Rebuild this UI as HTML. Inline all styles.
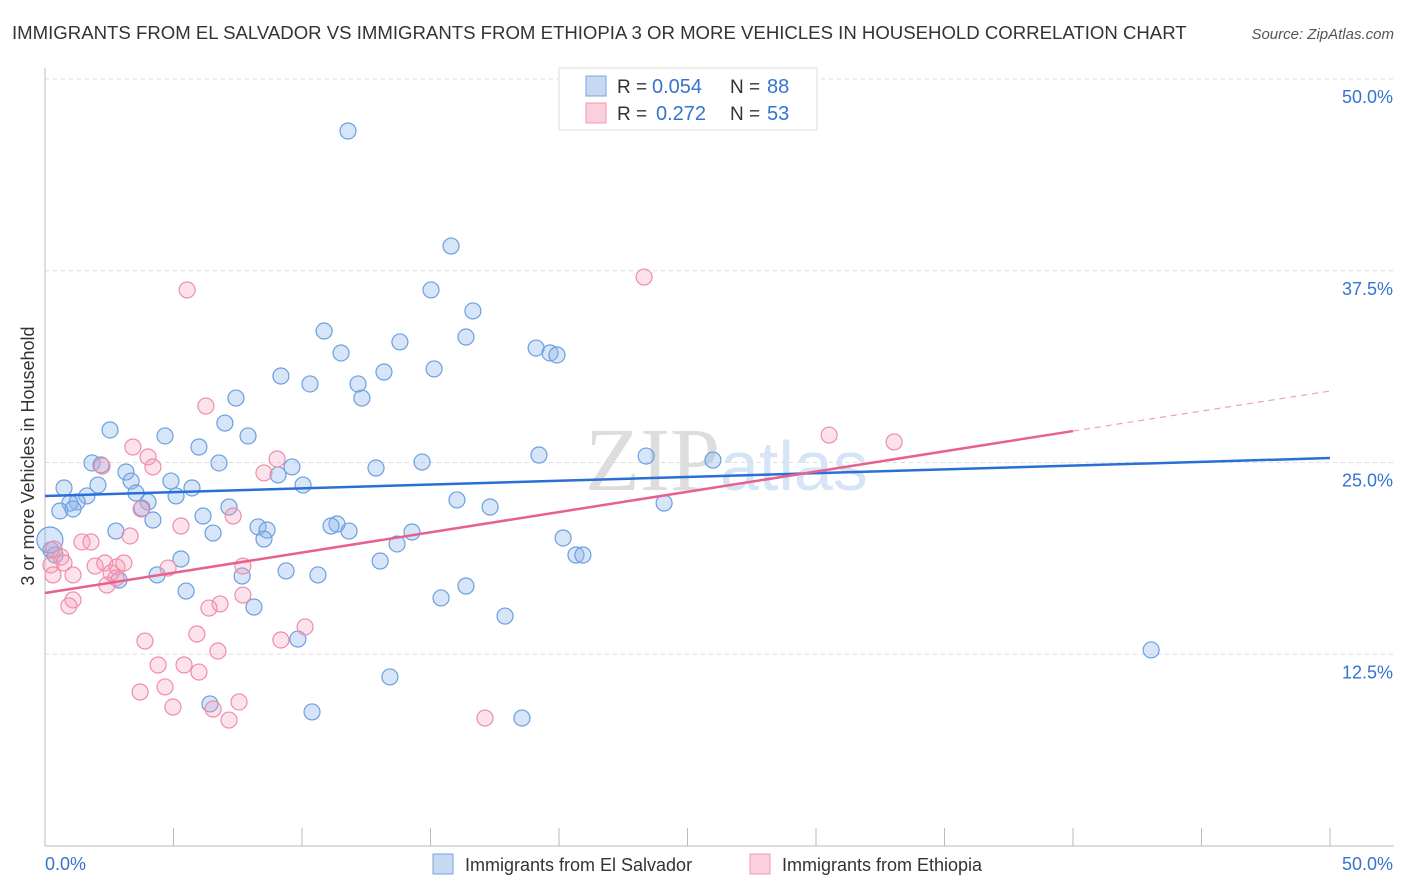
<!DOCTYPE html>
<html><head><meta charset="utf-8"><style>
body{margin:0;background:#fff;font-family:"Liberation Sans",sans-serif}
#c{position:absolute;left:0;top:0}
</style></head><body>
<svg id="c" width="1406" height="892">
<text x="12" y="39" font-size="18.6" fill="#333">IMMIGRANTS FROM EL SALVADOR VS IMMIGRANTS FROM ETHIOPIA 3 OR MORE VEHICLES IN HOUSEHOLD CORRELATION CHART</text>
<text x="1394" y="39" font-size="15" fill="#555" font-style="italic" text-anchor="end">Source: ZipAtlas.com</text>
<text x="720" y="490" font-size="90" fill="#ddd" text-anchor="end" font-family="Liberation Serif,serif">ZIP</text>
<text x="720" y="490" font-size="70" fill="#d6e4f5">atlas</text>
<g id="grid"></g><g id="axes"></g><g id="pts"></g><g id="lines"></g>
<text transform="translate(34,456) rotate(-90)" font-size="18" fill="#333" text-anchor="middle">3 or more Vehicles in Household</text>
<g>
<rect x="559" y="68" width="258" height="62" fill="#fff" stroke="#ddd"/>
<rect x="586" y="76" width="20" height="20" fill="#c5d9f3" stroke="#7aa4dc"/>
<rect x="586" y="103" width="20" height="20" fill="#fbd0dc" stroke="#ee9ab3"/>
<text x="617" y="93" font-size="19" fill="#333">R =</text>
<text x="652" y="93" font-size="20" fill="#3573d0">0.054</text>
<text x="730" y="93" font-size="19" fill="#333">N =</text>
<text x="767" y="93" font-size="20" fill="#3573d0">88</text>
<text x="617" y="120" font-size="19" fill="#333">R =</text>
<text x="656" y="120" font-size="20" fill="#3573d0">0.272</text>
<text x="730" y="120" font-size="19" fill="#333">N =</text>
<text x="767" y="120" font-size="20" fill="#3573d0">53</text>
</g>
<g>
<rect x="433" y="854" width="20" height="20" fill="#c5d9f3" stroke="#7aa4dc"/>
<text x="465" y="871" font-size="18" fill="#333">Immigrants from El Salvador</text>
<rect x="750" y="854" width="20" height="20" fill="#fbd0dc" stroke="#ee9ab3"/>
<text x="782" y="871" font-size="18" fill="#333">Immigrants from Ethiopia</text>
</g>
</svg>
<script>
const blueX=[11.79,15.80,15.02,16.65,10.86,16.38,11.52,13.81,19.11,19.65,19.92,9.18,10.31,13.19,12.18,15.14,12.33,7.43,2.53,4.67,7.00,7.90,5.99,19.22,23.39,25.99,1.83,2.18,6.77,14.67,12.88,9.61,9.07,3.15,0.74,2.06,3.35,4.90,5.72,10.04,3.54,1.63,1.25,4.01,5.10,0.97,0.58,1.09,3.77,16.03,17.32,24.09,4.20,6.15,7.16,2.76,6.54,8.29,8.64,11.36,11.13,11.83,8.52,14.28,13.70,20.16,20.66,20.93,13.04,5.29,0.23,0.39,4.36,2.88,7.67,9.38,10.62,16.38,5.49,15.41,8.13,17.90,9.84,43.04,13.42,6.42,10.39,18.56,0.19];
const blueY=[46.61,39.11,36.25,34.88,33.57,33.18,32.14,32.86,32.46,32.14,32.01,30.64,30.12,30.90,30.12,31.10,29.20,29.20,27.12,26.73,27.57,26.73,26.01,25.49,25.42,25.16,24.97,24.84,24.97,25.03,24.64,24.71,24.19,24.38,23.34,23.53,23.79,23.79,23.34,23.53,23.01,22.82,22.43,22.43,22.82,22.36,21.84,21.97,22.03,22.56,22.10,22.36,21.25,21.51,22.10,20.53,20.40,20.80,20.60,20.99,20.86,20.53,20.01,20.47,19.69,20.08,18.97,18.97,18.58,18.71,19.30,18.97,17.67,17.34,17.60,17.93,17.67,16.95,16.62,16.17,15.58,14.99,13.49,12.78,11.02,9.26,8.74,8.34,19.95];
const pinkX=[5.53,23.31,6.26,3.42,4.01,4.20,2.22,9.03,8.52,30.51,33.04,3.74,7.32,5.29,1.44,1.79,3.31,0.35,0.62,0.23,0.74,1.09,1.95,2.33,2.80,3.07,2.57,2.76,2.41,4.79,7.70,0.31,1.09,0.93,6.81,6.38,7.70,10.12,9.18,3.89,5.91,4.40,5.41,6.73,5.99,3.70,4.67,7.55,4.98,6.54,7.16,17.12];
const pinkY=[36.25,37.09,28.68,26.01,25.36,24.71,24.77,25.23,24.32,26.79,26.34,21.97,21.51,20.86,19.82,19.82,20.21,19.36,18.84,18.32,18.45,17.67,18.25,18.45,18.19,18.45,17.80,17.47,17.01,18.12,18.25,17.67,16.04,15.65,15.78,15.51,16.36,14.28,13.43,13.36,13.82,11.80,11.80,12.71,11.34,10.04,10.37,9.39,9.06,8.93,8.21,8.34];
const blueTrend=[22.82,25.29];
const pinkTrend=[16.49,27.05,29.66];
const pinkTrendX=[0,40,50];
const yTicks=[12.5,25,37.5,50];
const yTickLabels=["12.5%","25.0%","37.5%","50.0%"];
const xTicks=[0,5,10,15,20,25,30,35,40,45,50];
const NS="http://www.w3.org/2000/svg";
const sx=v=>45+v*25.7, sy=v=>846-v*15.34;
function mk(tag,attrs,parent){const e=document.createElementNS(NS,tag);for(const k in attrs)e.setAttribute(k,attrs[k]);document.getElementById(parent).appendChild(e);return e;}
yTicks.forEach((t,i)=>{
 const g=mk('line',{x1:45,x2:1394,y1:sy(t),y2:sy(t),stroke:'#ddd','stroke-dasharray':'4,4'},'grid');
 
 
 const l=mk('text',{x:1393,y:sy(t)+24,'font-size':18,fill:'#3573d0','text-anchor':'end'},'axes');l.textContent=yTickLabels[i];
 
 
});
const ax=mk('line',{x1:45,x2:45,y1:68,y2:846,stroke:'#bbb'},'axes');


const bx=mk('line',{x1:45,x2:1394,y1:846,y2:846,stroke:'#bbb'},'axes');


xTicks.forEach(t=>{const k=mk('line',{x1:sx(t),x2:sx(t),y1:828,y2:846,stroke:'#bbb'},'axes');
 
 });
const x0=mk('text',{x:45,y:870,'font-size':18,fill:'#3573d0'},'axes');x0.textContent=xTicks[0].toFixed(1)+"%";


const x1=mk('text',{x:1393,y:870,'font-size':18,fill:'#3573d0','text-anchor':'end'},'axes');x1.textContent=xTicks[xTicks.length-1].toFixed(1)+"%";


blueX.forEach((v,i)=>{const c=mk('circle',{cx:sx(v),cy:sy(blueY[i]),r:i==blueX.length-1?13:8,fill:'rgba(140,180,235,0.35)',stroke:'#6b9fe0','stroke-width':1.2},'pts');
 
 });
pinkX.forEach((v,i)=>{const c=mk('circle',{cx:sx(v),cy:sy(pinkY[i]),r:8,fill:'rgba(245,160,185,0.3)',stroke:'#f08caa','stroke-width':1.2},'pts');
 
 });
const bl=mk('line',{x1:sx(0),y1:sy(blueTrend[0]),x2:sx(50),y2:sy(blueTrend[1]),stroke:'#2a6fd6','stroke-width':2.5},'lines');


const pl=mk('line',{x1:sx(pinkTrendX[0]),y1:sy(pinkTrend[0]),x2:sx(pinkTrendX[1]),y2:sy(pinkTrend[1]),stroke:'#e8608e','stroke-width':2.5},'lines');


const pd=mk('line',{x1:sx(pinkTrendX[1]),y1:sy(pinkTrend[1]),x2:sx(pinkTrendX[2]),y2:sy(pinkTrend[2]),stroke:'#f0a0b8','stroke-width':1.2,'stroke-dasharray':'6,5'},'lines');


</script>
</body></html>
